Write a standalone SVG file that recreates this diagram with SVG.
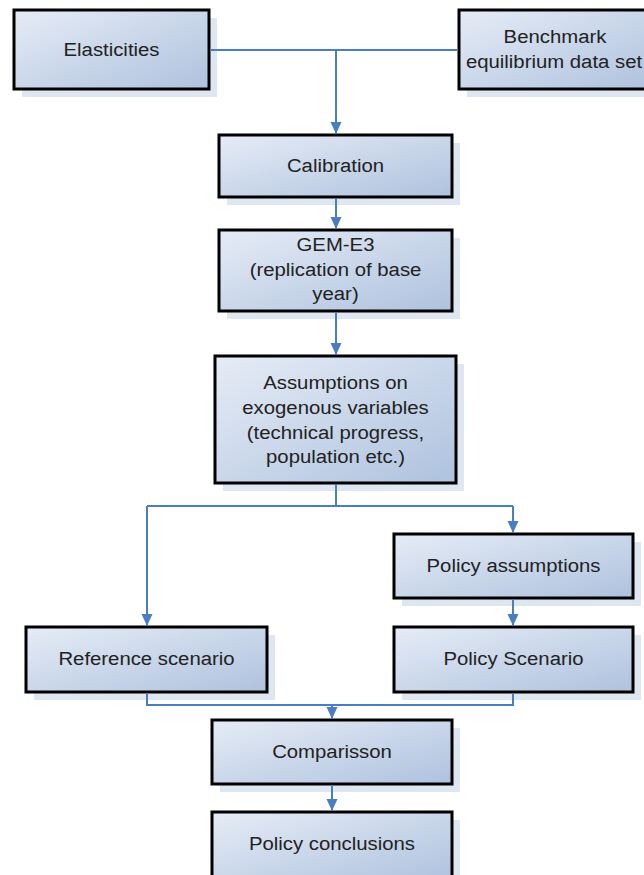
<svg xmlns="http://www.w3.org/2000/svg" width="644" height="875" viewBox="0 0 644 875">
<style>
.box{fill:url(#g);stroke:#000;stroke-width:3}
.sh{fill:#dee6f1}
.t{font-family:"Liberation Sans",Arial,sans-serif;font-size:18px;fill:#222;text-anchor:middle}
.c{fill:none;stroke:#4a7ec2;stroke-width:2}
</style>
<defs>
<linearGradient id="g" x1="0" y1="0" x2="1" y2="1">
<stop offset="0" stop-color="#e6ecf6"/>
<stop offset="1" stop-color="#aec2de"/>
</linearGradient>
<marker id="a" markerUnits="userSpaceOnUse" markerWidth="14" markerHeight="14" viewBox="0 0 14 14" refX="13" refY="7" orient="auto">
<path d="M1,1.5 L13,7 L1,12.5 Z" fill="#4a7ec2"/>
</marker>
</defs>
<rect width="644" height="875" fill="#fff"/>
<g id="elasticities">
<rect class="sh" x="22" y="18" width="195" height="79"/>
<rect class="box" x="14" y="10" width="195" height="79"/>
<text class="t" transform="translate(111.5,56) scale(1.13,1)">Elasticities</text>
</g>
<g id="benchmark">
<rect class="sh" x="467" y="18" width="192" height="79"/>
<rect class="box" x="459" y="10" width="192" height="79"/>
<text class="t" transform="translate(555,43) scale(1.13,1)">Benchmark</text>
<text class="t" transform="translate(554,68) scale(1.13,1)">equilibrium data set</text>
</g>
<g id="calibration">
<rect class="sh" x="227" y="143" width="233" height="62"/>
<rect class="box" x="219" y="135" width="233" height="62"/>
<text class="t" transform="translate(335.5,172) scale(1.13,1)">Calibration</text>
</g>
<g id="gem-e3">
<rect class="sh" x="227" y="238" width="233" height="81"/>
<rect class="box" x="219" y="230" width="233" height="81"/>
<text class="t" transform="translate(335.5,251) scale(1.13,1)">GEM-E3</text>
<text class="t" transform="translate(335.5,276) scale(1.13,1)">(replication of base</text>
<text class="t" transform="translate(335.5,300) scale(1.13,1)">year)</text>
</g>
<g id="assumptions">
<rect class="sh" x="223" y="364" width="241" height="127"/>
<rect class="box" x="215" y="356" width="241" height="127"/>
<text class="t" transform="translate(335.5,389) scale(1.13,1)">Assumptions on</text>
<text class="t" transform="translate(335.5,414) scale(1.13,1)">exogenous variables</text>
<text class="t" transform="translate(335.5,439) scale(1.13,1)">(technical progress,</text>
<text class="t" transform="translate(335.5,463) scale(1.13,1)">population etc.)</text>
</g>
<g id="policy-assumptions">
<rect class="sh" x="402" y="542" width="239" height="64"/>
<rect class="box" x="394" y="534" width="239" height="64"/>
<text class="t" transform="translate(513.5,572) scale(1.13,1)">Policy assumptions</text>
</g>
<g id="reference-scenario">
<rect class="sh" x="34" y="635" width="241" height="65"/>
<rect class="box" x="26" y="627" width="241" height="65"/>
<text class="t" transform="translate(146.5,665) scale(1.13,1)">Reference scenario</text>
</g>
<g id="policy-scenario">
<rect class="sh" x="402" y="635" width="239" height="65"/>
<rect class="box" x="394" y="627" width="239" height="65"/>
<text class="t" transform="translate(513.5,665) scale(1.13,1)">Policy Scenario</text>
</g>
<g id="comparisson">
<rect class="sh" x="220" y="728" width="240" height="64"/>
<rect class="box" x="212" y="720" width="240" height="64"/>
<text class="t" transform="translate(332,758) scale(1.13,1)">Comparisson</text>
</g>
<g id="policy-conclusions">
<rect class="sh" x="220" y="820" width="240" height="70"/>
<rect class="box" x="212" y="812" width="240" height="70"/>
<text class="t" transform="translate(332,850) scale(1.13,1)">Policy conclusions</text>
</g>
<g id="connectors">
<path class="c" d="M210.5,50 H457.5"/>
<path class="c" d="M336,50 V134" marker-end="url(#a)"/>
<path class="c" d="M336,198.5 V229" marker-end="url(#a)"/>
<path class="c" d="M336,312.5 V355" marker-end="url(#a)"/>
<path class="c" d="M336,484.5 V506 M147,506 H513"/>
<path class="c" d="M147,506 V626" marker-end="url(#a)"/>
<path class="c" d="M513,506 V533" marker-end="url(#a)"/>
<path class="c" d="M513,599.5 V626" marker-end="url(#a)"/>
<path class="c" d="M147,693.5 V705 H513 V693.5"/>
<path class="c" d="M332,705 V719" marker-end="url(#a)"/>
<path class="c" d="M332,785.5 V811" marker-end="url(#a)"/>
</g>
</svg>
